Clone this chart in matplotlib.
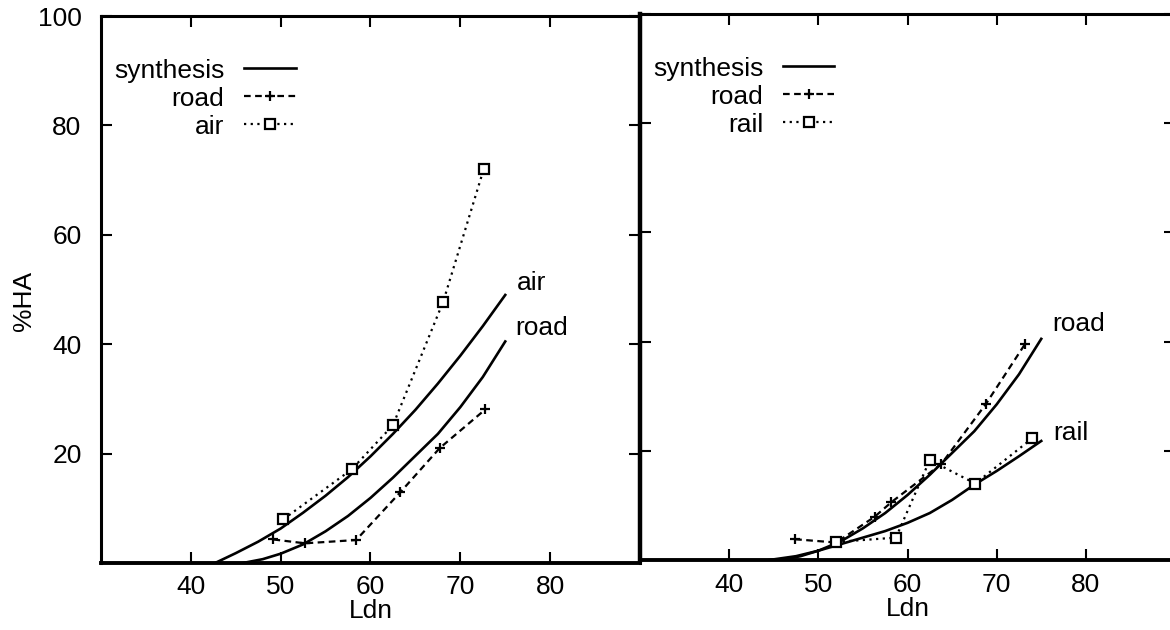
import matplotlib
matplotlib.use('Agg')
import matplotlib.pyplot as plt

plt.rcParams['font.family'] = ['Liberation Sans', 'DejaVu Sans']

# --- left panel: road and air ---
air_x = [50.3, 57.9, 62.5, 68.1, 72.6]
air_y = [8.0, 17.1, 25.2, 47.8, 72.0]
road1_x = [49.2, 52.7, 58.4, 63.3, 67.7, 72.8]
road1_y = [4.3, 3.6, 4.2, 12.9, 21.0, 28.1]

# synthesis curves
air_syn_x = [42.7, 45, 47.5, 50, 52.5, 55, 57.5, 60, 62.5, 65, 67.5, 70, 72.5, 75]
air_syn_y = [0, 1.8, 3.9, 6.3, 9.2, 12.3, 15.7, 19.5, 23.6, 28.0, 32.8, 37.9, 43.3, 49.0]
road_syn_x = [45.8, 48, 50, 52.5, 55, 57.5, 60, 62.5, 65, 67.5, 70, 72.5, 75]
road_syn_y = [0, 0.7, 1.7, 3.4, 5.8, 8.6, 11.9, 15.6, 19.6, 23.6, 28.5, 34.0, 40.5]

# --- right panel: road and rail ---
road2_x = [47.4, 52.0, 56.3, 58.2, 63.8, 68.8, 73.2]
road2_y = [3.8, 3.2, 7.9, 10.6, 17.6, 28.6, 39.6]
rail_x = [52.0, 58.7, 62.5, 67.6, 74.0]
rail_y = [3.3, 4.1, 18.3, 14.0, 22.3]
rail_syn_x = [44.5, 47.5, 50, 52.5, 55, 57.5, 60, 62.5, 65, 67.5, 70, 72.5, 75]
rail_syn_y = [0, 0.7, 1.7, 2.9, 4.1, 5.3, 6.8, 8.6, 11.0, 13.8, 16.3, 19.0, 21.8]

xticks = [40, 50, 60, 70, 80]
yticks = [20, 40, 60, 80, 100]

W, H = 1170, 630
fig = plt.figure(figsize=(W / 100, H / 100), dpi=100)

def px_axes(x0, y0, x1, y1):
    return fig.add_axes([x0 / W, 1 - y1 / H, (x1 - x0) / W, (y1 - y0) / H])

ax1 = px_axes(101, 16, 640, 563)
ax2 = px_axes(640, 14, 1175, 560)

FS = 19

def style(ax, ylabels):
    ax.set_xlim(30, 90)
    ax.set_ylim(0, 100)
    ax.set_xticks(xticks)
    ax.set_yticks(yticks)
    ax.tick_params(direction='in', length=8, width=1.5, top=True, right=True,
                   labelsize=FS)
    ax.tick_params(axis='x', pad=9)
    ax.tick_params(axis='y', pad=14)
    for s in ax.spines.values():
        s.set_linewidth(2.2)
    ax.spines['bottom'].set_linewidth(2.8)
    if not ylabels:
        ax.tick_params(labelleft=False)
    ax.set_xlabel('Ldn', fontsize=FS, labelpad=0)

style(ax1, True)
style(ax2, False)
ax2.spines['left'].set_linewidth(3.2)
ax1.set_ylabel('%HA', fontsize=FS)
ax1.yaxis.set_label_coords(-0.12, 0.48)

syn_style = dict(color='black', lw=1.9)
road_style = dict(color='black', lw=1.6, ls=(0, (3, 2)), marker='+', ms=7, mew=1.6)
dot_style = dict(color='black', lw=1.6, ls=(0, (1, 2)), marker='s', ms=6.5,
                 mfc='white', mew=1.6)

ax1.plot(air_syn_x, air_syn_y, label='synthesis', **syn_style)
ax1.plot(road_syn_x, road_syn_y, **syn_style)
ax1.plot(road1_x, road1_y, label='road', **road_style)
ax1.plot(air_x, air_y, label='air', **dot_style)
ax1.text(76.3, 51.2, 'air', fontsize=FS, va='center', ha='left')
ax1.text(76.1, 43.0, 'road', fontsize=FS, va='center', ha='left')

ax2.plot(road_syn_x, road_syn_y, label='synthesis', **syn_style)
ax2.plot(rail_syn_x, rail_syn_y, **syn_style)
ax2.plot(road2_x, road2_y, label='road', **road_style)
ax2.plot(rail_x, rail_y, label='rail', **dot_style)
ax2.text(76.2, 43.3, 'road', fontsize=FS, va='center', ha='left')
ax2.text(76.4, 23.3, 'rail', fontsize=FS, va='center', ha='left')

for ax in (ax1, ax2):
    ax.legend(loc='upper left', bbox_to_anchor=(0.024, 0.922), frameon=False,
              markerfirst=False, fontsize=FS, handlelength=1.95, handletextpad=0.75,
              labelspacing=0.15, borderpad=0, borderaxespad=0, numpoints=1)

fig.savefig('out.png', dpi=100)
